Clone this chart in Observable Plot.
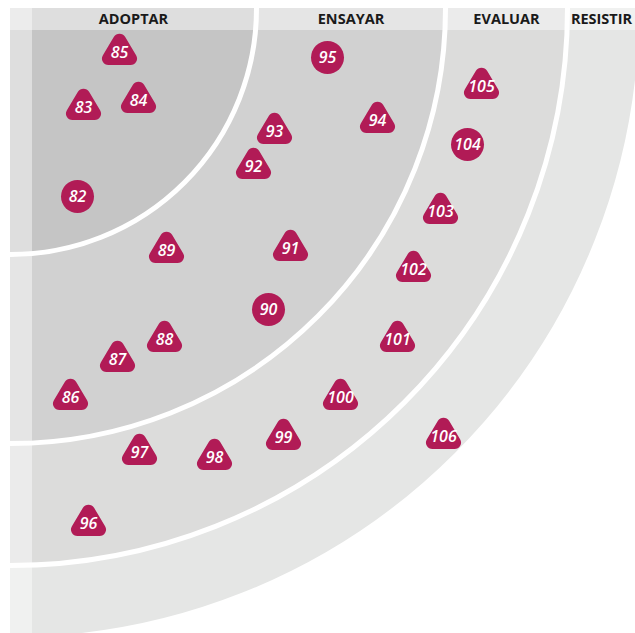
<!DOCTYPE html>
<html>
<head>
<meta charset="utf-8">
<script src="https://cdn.jsdelivr.net/npm/d3@7"></script>
<script src="https://cdn.jsdelivr.net/npm/@observablehq/plot@0.6"></script>
<style>
  html, body { margin: 0; padding: 0; background: #fff; }
  #chart svg { display: block; }
</style>
</head>
<body>
<div id="chart"></div>
<script>
// Rings (outer radius in radar units)
const ringNames = ["ADOPTAR", "ENSAYAR", "EVALUAR", "RESISTIR"];
const ringRadii = [246, 435, 557, 631];
const ringColors = ["#c5c5c5", "#d1d1d1", "#dcdcdb", "#e5e6e5"];

// Blips
const blipIds    = [85, 83, 84, 82, 95, 93, 94, 92, 89, 91, 90, 88, 87, 86, 97, 98, 99, 100, 101, 102, 103, 104, 105, 106, 96];
const blipShapes = ["t","t","t","c","c","t","t","t","t","t","c","t","t","t","t","t","t","t","t","t","t","c","t","t","t"];
const blipX      = [109, 73, 128, 67, 317, 264, 367, 243, 156, 280, 258, 154, 107, 60, 129, 204, 273, 330, 387, 403, 430, 457, 471, 433, 78];
const blipY      = [44, 99, 92, 188, 49, 123, 112, 158, 242, 240, 301, 331, 351, 389, 444, 449, 429, 389, 331, 261, 203, 136, 78, 428, 515];

const visibleExtent = 625;
const rings = ringNames.map((name, i) => ({
  name, r: ringRadii[i], fill: ringColors[i],
  mid: ((i === 0 ? 0 : ringRadii[i - 1]) + Math.min(ringRadii[i], visibleExtent)) / 2
}));
const blips = blipIds.map((id, i) => ({id: String(id), shape: blipShapes[i], x: blipX[i], y: blipY[i]}));

// rounded triangle symbol (text sits in its lower part)
const roundedTriangle = {
  draw(ctx, size) {
    const s = Math.sqrt(size / Math.PI) / 16;
    const pts = [[0, -25 * s], [22.5 * s, 12.5 * s], [-22.5 * s, 12.5 * s]];
    const rr = 6.5 * s;
    const m = [(pts[2][0] + pts[0][0]) / 2, (pts[2][1] + pts[0][1]) / 2];
    ctx.moveTo(m[0], m[1]);
    for (let i = 0; i < 3; i++) {
      const p = pts[i], q = pts[(i + 1) % 3];
      ctx.arcTo(p[0], p[1], q[0], q[1], rr);
    }
    ctx.closePath();
  }
};

const blipColor = "#b11b56";

const chart = Plot.plot({
  width: 635,
  height: 633,
  marginLeft: 10,
  marginTop: 8,
  marginRight: 0,
  marginBottom: 0,
  x: {domain: [0, 625], range: [10, 635], axis: null},
  y: {domain: [0, 625], range: [8, 633], axis: null},
  r: {type: "identity"},
  style: {fontFamily: "'Open Sans', sans-serif", background: "#fff"},
  marks: [
    Plot.dot(rings, {x: () => 0, y: () => 0, r: "r", fill: "fill", stroke: "#fff", strokeWidth: 5, clip: true, sort: {channel: "r", order: "descending"}}),
    Plot.rect([0], {x1: 0, x2: 625, y1: 0, y2: 22, fill: "#fff", fillOpacity: 0.44, clip: true}),
    Plot.rect([0], {x1: 0, x2: 22, y1: 0, y2: 625, fill: "#fff", fillOpacity: 0.44, clip: true}),
    Plot.text(rings, {x: "mid", y: () => 11, text: "name", fontSize: 14.5, fontWeight: 700, fill: "#1a1a1a", textAnchor: "middle", clip: true}),
    Plot.dot(blips.filter(d => d.shape === "t"), {x: "x", y: "y", r: 16, symbol: roundedTriangle, fill: blipColor, stroke: "none"}),
    Plot.dot(blips.filter(d => d.shape === "c"), {x: "x", y: "y", r: 16.5, fill: blipColor, stroke: "none"}),
    Plot.text(blips, {x: "x", y: "y", text: "id", fill: "#fff", fontSize: 16, fontWeight: 600, fontStyle: "italic"})
  ]
});
document.getElementById("chart").appendChild(chart);
</script>
</body>
</html>
